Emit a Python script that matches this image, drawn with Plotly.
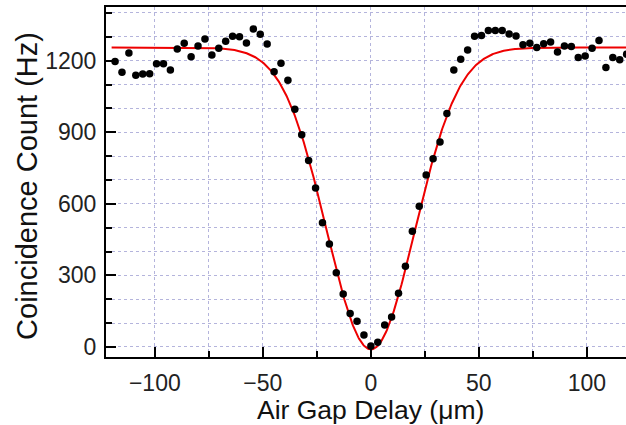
import numpy as np
import plotly.graph_objects as go

# Measured data (air gap delay in um, coincidence count in Hz)
delay_um = [
    -118.4, -115.2, -112.0, -108.8, -105.6, -102.4, -99.2, -96.0, -92.8, -89.6,
    -86.4, -83.2, -80.0, -76.8, -73.6, -70.4, -67.2, -64.0, -60.8, -57.6,
    -54.4, -51.2, -48.0, -44.8, -41.6, -38.4, -35.2, -32.0, -28.8, -25.6,
    -22.4, -19.2, -16.0, -12.8, -9.6, -6.4, -3.2, 0.0, 3.2, 6.4,
    9.6, 12.8, 16.0, 19.2, 22.4, 25.6, 28.8, 32.0, 35.2, 38.4,
    41.6, 44.8, 48.0, 51.2, 54.4, 57.6, 60.8, 64.0, 67.2, 70.4,
    73.6, 76.8, 80.0, 83.2, 86.4, 89.6, 92.8, 96.0, 99.2, 102.4,
    105.6, 108.8, 112.0, 115.2, 118.4,
]
counts_hz = [
    1197, 1151, 1232, 1139, 1144, 1145, 1187, 1187, 1161, 1249,
    1273, 1217, 1262, 1291, 1224, 1252, 1281, 1302, 1300, 1274,
    1333, 1311, 1270, 1154, 1189, 1118, 996, 890, 782, 666,
    521, 432, 311, 222, 140, 108, 50, 4, 20, 92,
    126, 225, 338, 485, 590, 721, 789, 859, 979, 1161,
    1206, 1245, 1302, 1306, 1326, 1326, 1326, 1312, 1303, 1267,
    1273, 1255, 1271, 1278, 1236, 1262, 1259, 1213, 1220, 1252,
    1285, 1171, 1213, 1204, 1227,
]

# Gaussian fit parameters
fit_baseline = 1255.0
fit_depth = 1265.0
fit_center = 0.0
fit_sigma = 20.4
fit_x = np.linspace(-120, 120, 600)
fit_y = fit_baseline - fit_depth * np.exp(-((fit_x - fit_center) ** 2) / (2 * fit_sigma ** 2))

x_ticks = [-100, -50, 0, 50, 100]
x_tick_text = ["\u2212100", "\u221250", "0", "50", "100"]
y_ticks = [0, 300, 600, 900, 1200]
x_title = "Air Gap Delay (\u03bcm)"
y_title = "Coincidence Count (Hz)"

grid_color = "#b4b4dc"
font_family = "Liberation Sans, Arial, sans-serif"

fig = go.Figure()
fig.add_trace(go.Scatter(
    x=fit_x, y=fit_y, mode="lines",
    line=dict(color="#ee0000", width=2), showlegend=False,
))
fig.add_trace(go.Scatter(
    x=delay_um, y=counts_hz, mode="markers",
    marker=dict(color="black", size=7.5), showlegend=False,
))

fig.update_layout(
    width=626, height=425,
    margin=dict(l=106, r=0, t=7, b=68, autoexpand=False),
    plot_bgcolor="white", paper_bgcolor="white",
    font=dict(family=font_family, color="#222222"),
)
fig.update_xaxes(
    automargin=False,
    range=[-122.6, 118.1],
    tickvals=x_ticks, ticktext=x_tick_text,
    ticks="inside", ticklen=10, tickwidth=2, tickcolor="black",
    showline=True, linecolor="black", linewidth=2, mirror=True,
    showgrid=True, gridcolor=grid_color, griddash="dot", gridwidth=1,
    minor=dict(dtick=25, tick0=0, ticks="inside", ticklen=6, tickwidth=1.5,
               tickcolor="black", showgrid=True, gridcolor=grid_color, griddash="dot"),
    zeroline=False,
    tickfont=dict(size=23, color="#222222"),
    ticklabelstandoff=4,
)
fig.update_yaxes(
    automargin=False,
    range=[-42, 1425],
    tickvals=y_ticks,
    ticks="inside", ticklen=10, tickwidth=2, tickcolor="black",
    showline=True, linecolor="black", linewidth=2, mirror=False,
    showgrid=True, gridcolor=grid_color, griddash="dot", gridwidth=1,
    minor=dict(dtick=100, tick0=0, ticks="inside", ticklen=6, tickwidth=1.5,
               tickcolor="black", showgrid=True, gridcolor=grid_color, griddash="dot"),
    zeroline=False,
    tickfont=dict(size=23, color="#222222"),
    ticklabelstandoff=3,
)
fig.add_annotation(
    text=x_title, x=0, xref="x", y=-0.151, yref="paper",
    xanchor="center", yanchor="middle", showarrow=False,
    font=dict(size=26.5, color="#111111"),
)
fig.add_annotation(
    text=y_title, x=-0.153, xref="paper", y=0.49, yref="paper",
    xanchor="center", yanchor="middle", showarrow=False, textangle=-90,
    font=dict(size=29, color="#111111"),
)

fig.write_html(
    "out.html",
    config={"displayModeBar": False},
    post_script="document.body.style.margin='0';document.body.style.overflow='hidden';",
)
